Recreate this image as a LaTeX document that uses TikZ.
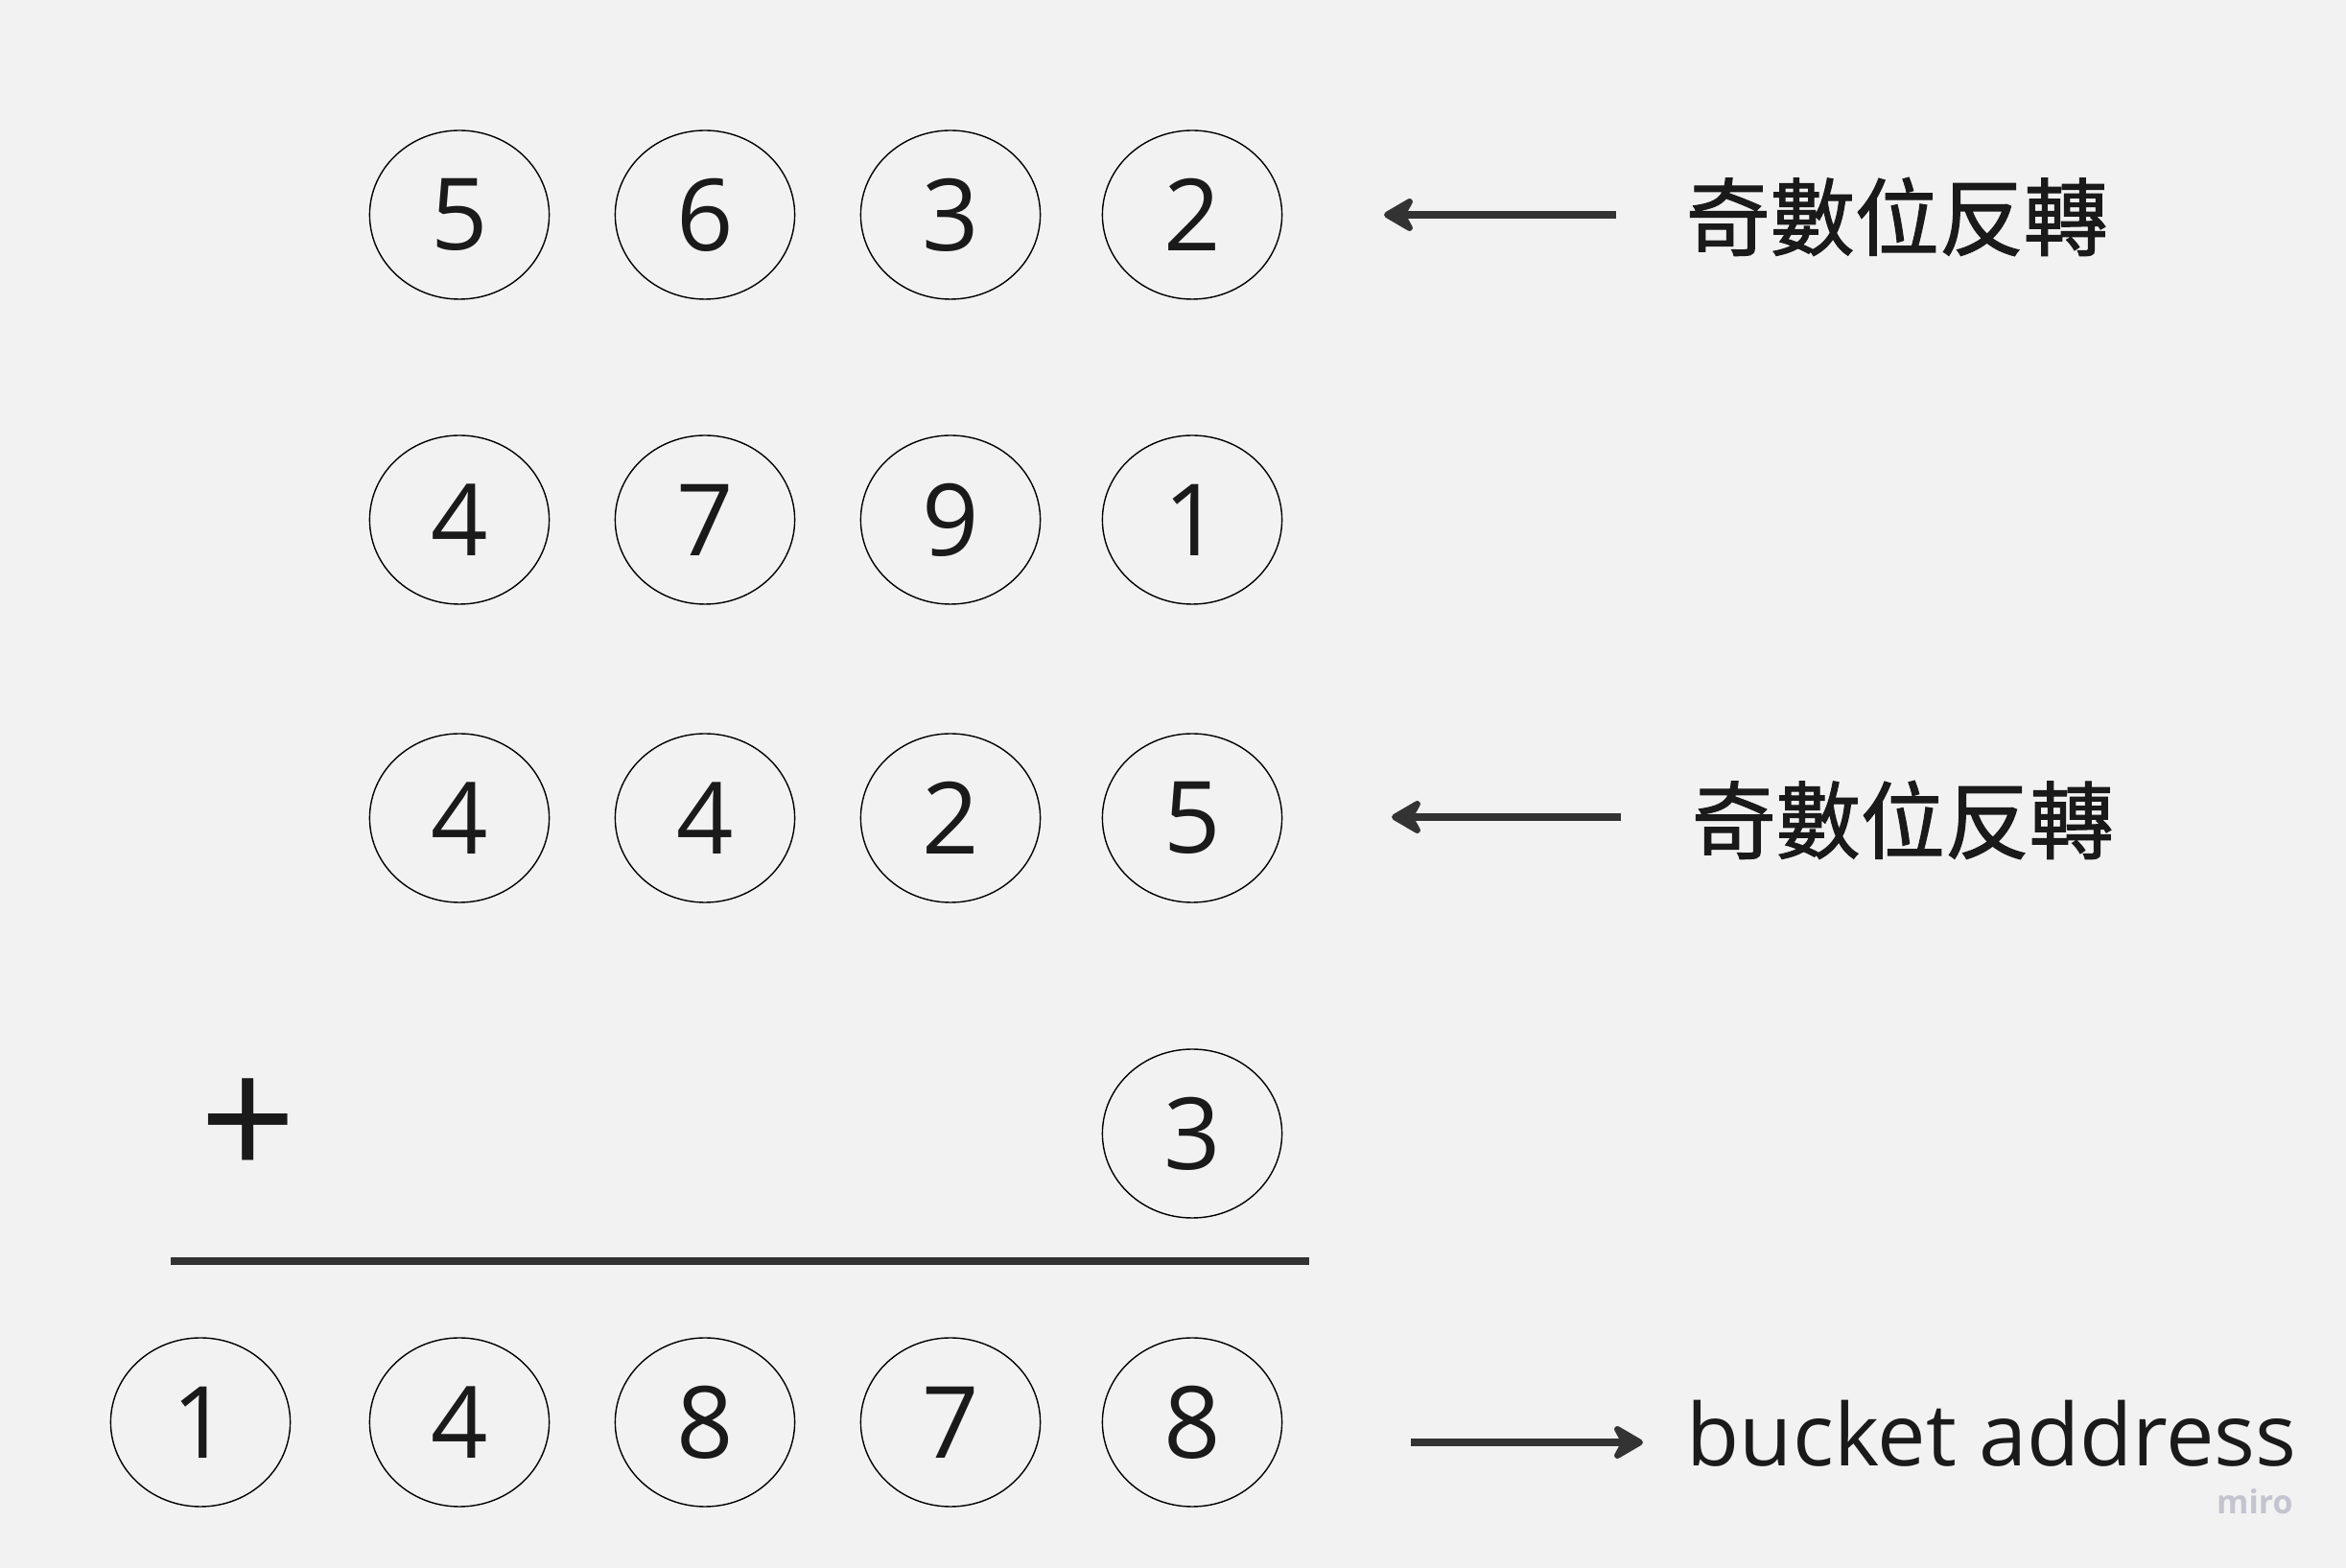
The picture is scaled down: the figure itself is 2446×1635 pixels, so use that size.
\documentclass[tikz,border=0pt]{standalone}
\usepackage{fontspec}
\setmainfont{Open Sans}
\newfontfamily\cjk[FakeBold=1.3]{Noto Sans CJK TC}
\usetikzlibrary{shapes.geometric,arrows.meta}
\definecolor{bg}{HTML}{F2F2F2}
\definecolor{ink}{HTML}{1A1A1A}
\definecolor{arr}{HTML}{333333}
\definecolor{mirogray}{HTML}{C4C4CF}
\tikzset{
  digit/.style={ellipse, draw=black, line width=0.35pt, fill=bg, minimum width=46.8pt, minimum height=44pt, inner sep=0pt, text=ink, font=\fontsize{26}{30}\selectfont},
  label/.style={text=ink, inner sep=0pt},
  bigarrow/.style={draw=arr, line width=2pt, -{Stealth[length=9.5pt,width=11pt,inset=3pt,round]}},
}
\begin{document}
\begin{tikzpicture}[x=0.25pt,y=-0.25pt]
\fill[bg] (0,0) rectangle (2446,1635);
\useasboundingbox (0,0) rectangle (2446,1635);
% row 1
\node[digit] (a1) at (479,224) {5};
\node[digit] (a2) at (735,224) {6};
\node[digit] (a3) at (991,224) {3};
\node[digit] (a4) at (1243,224) {2};
% row 2
\node[digit] (b1) at (479,542) {4};
\node[digit] (b2) at (735,542) {7};
\node[digit] (b3) at (991,542) {9};
\node[digit] (b4) at (1243,542) {1};
% row 3
\node[digit] (c1) at (479,853) {4};
\node[digit] (c2) at (735,853) {4};
\node[digit] (c3) at (991,853) {2};
\node[digit] (c4) at (1243,853) {5};
% row 4
\node[digit] (d4) at (1243,1182) {3};
\node[label, font=\fontsize{44}{50}\selectfont] (plus) at (259,1177) {+};
% sum line
\coordinate (lineL) at (178,1315);
\coordinate (lineR) at (1365,1315);
\draw[arr, line width=2.2pt] (lineL) -- (lineR);
% row 5
\node[digit] (e0) at (209,1483) {1};
\node[digit] (e1) at (479,1483) {4};
\node[digit] (e2) at (735,1483) {8};
\node[digit] (e3) at (991,1483) {7};
\node[digit] (e4) at (1243,1483) {8};
% labels
\node[label, anchor=west, font=\cjk\fontsize{22}{26}\selectfont] (t1) at (1757,226) {奇數位反轉};
\node[label, anchor=west, font=\cjk\fontsize{22}{26}\selectfont] (t2) at (1763,855) {奇數位反轉};
\node[label, anchor=base west, font=\fontsize{22.5}{27}\selectfont] (t3) at (1758,1529) {bucket address};
\node[text=mirogray, inner sep=0pt, font=\bfseries\fontsize{8.5}{10}\selectfont] (miro) at (2351,1566) {miro};
% arrows
\coordinate (s1) at (1685,224); \coordinate (e1a) at (1443,224);
\coordinate (s2) at (1690,852); \coordinate (e2a) at (1451,852);
\coordinate (s3) at (1471,1504); \coordinate (e3a) at (1713,1504);
\draw[bigarrow] (s1) -- (e1a);
\draw[bigarrow] (s2) -- (e2a);
\draw[bigarrow] (s3) -- (e3a);
\end{tikzpicture}
\end{document}
